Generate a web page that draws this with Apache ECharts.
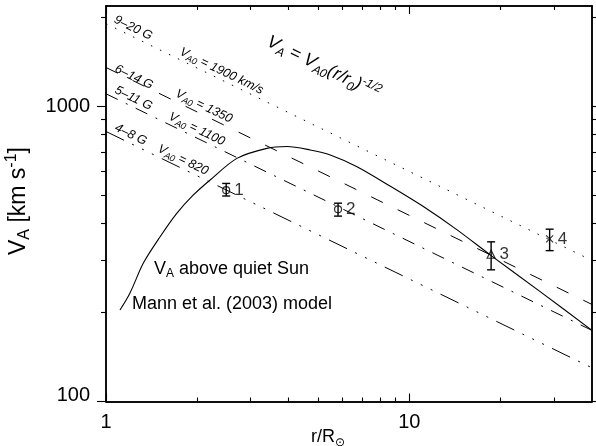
<!DOCTYPE html>
<html>
<head>
<meta charset="utf-8">
<script src="https://cdn.jsdelivr.net/npm/echarts@6/dist/echarts.min.js"></script>
<style>
  html, body { margin: 0; padding: 0; background: #fff; }
  #chart { width: 596px; height: 446px; }
</style>
</head>
<body>
<div id="chart"></div>
<script>
// Alfvén speed above the quiet Sun (Mann et al. 2003 model), r in solar radii, V in km/s
const modelR = [1.112, 1.20, 1.328, 1.508, 1.711, 1.941, 2.204, 2.701, 3.392, 3.948, 4.71, 5.488, 6.72, 8.66, 11.15, 14.37, 18.51, 27.06, 40];
const modelV = [204, 233, 294, 361, 433, 500, 562, 665, 719, 729, 710, 683, 623, 535, 456, 381, 313, 235, 174];

// Power-law reference lines V = V_A0 (r/r0)^-1/2, drawn between r = 1 and r = 40
const refR = [1, 40];
const refStartV = [1900, 1350, 1100, 820];
const refEndV = [300, 213, 174, 130];
const refFieldText = ['9–20 G', '6–14 G', '5–11 G', '4–8 G'];
const refSpeedText = ['1900 km/s', '1350', '1100', '820'];

// Measured speeds with error ranges
const obsR = [2.49, 5.82, 18.6, 29.0];
const obsV = [519, 447, 315, 355];
const obsLow = [496, 424, 279, 324];
const obsHigh = [547, 469, 347, 383];
const obsNames = ['1', '2', '3', '4'];

// Axis ticks
const xMajorTicks = [1, 10];
const xMinorTicks = [2, 3, 4, 5, 6, 7, 8, 9, 20, 30];
const yMajorTicks = [100, 1000];
const yMinorTicks = [200, 300, 400, 500, 600, 700, 800, 900, 2000];

const FONT = '"Liberation Sans", Arial, Helvetica, sans-serif';
const BLACK = '#000';

function richSet(size, italic) {
  const sub = Math.round(size * 0.68);
  const base = { fontFamily: FONT, color: BLACK, fontStyle: italic ? 'italic' : 'normal' };
  return {
    m: Object.assign({}, base, { fontSize: size, lineHeight: Math.round(size * 1.28) }),
    b: Object.assign({}, base, { fontSize: sub, lineHeight: sub, verticalAlign: 'bottom' }),
    p: Object.assign({}, base, { fontSize: sub, lineHeight: sub, verticalAlign: 'top' })
  };
}

function xAxisDef(position, ticks, len, labels) {
  return {
    type: 'log', logBase: 10, min: 1, max: 40, position: position,
    axisLine: { show: true, onZero: false, lineStyle: { color: BLACK, width: 1.5 } },
    axisTick: { show: true, inside: true, length: len, customValues: ticks, lineStyle: { color: BLACK, width: 1.1 } },
    axisLabel: labels ? {
      show: true, customValues: labels, margin: 11, fontSize: 20, fontFamily: FONT, color: BLACK,
      formatter: v => String(Math.round(v))
    } : { show: false },
    minorTick: { show: false }, splitLine: { show: false }
  };
}

function yAxisDef(position, ticks, len, labels) {
  return {
    type: 'log', logBase: 10, min: 100, max: 2180, position: position,
    axisLine: { show: true, onZero: false, lineStyle: { color: BLACK, width: 1.5 } },
    axisTick: { show: true, inside: false, length: len, customValues: ticks, lineStyle: { color: BLACK, width: 1.1 } },
    axisLabel: labels ? {
      show: true, customValues: labels, margin: 16, fontSize: 20, fontFamily: FONT, color: BLACK,
      formatter: v => Math.round(v) === 100 ? '{lo|100}' : String(Math.round(v)),
      rich: { lo: { fontSize: 20, fontFamily: FONT, color: BLACK, padding: [0, 0, 13, 0] } }
    } : { show: false },
    minorTick: { show: false }, splitLine: { show: false }
  };
}

const refDash = [
  [1.5, 8.5],
  [13, 16.5],
  [13, 9, 2, 9],
  [20, 9, 2, 9, 2, 9, 2, 9]
];

const series = [];

series.push({
  type: 'line', xAxisIndex: 0, yAxisIndex: 0,
  data: modelR.map((r, i) => [r, modelV[i]]),
  smooth: 0.3, symbol: 'none',
  lineStyle: { color: BLACK, width: 1.1 }, z: 3
});

refStartV.forEach((v0, i) => {
  series.push({
    type: 'line', xAxisIndex: 0, yAxisIndex: 0,
    data: [[refR[0], v0], [refR[1], refEndV[i]]],
    symbol: 'none',
    lineStyle: { color: BLACK, width: 1, type: refDash[i], cap: 'butt' }, z: 2
  });
});

series.push({
  type: 'custom', xAxisIndex: 0, yAxisIndex: 0,
  data: obsR.map((r, i) => [r, obsLow[i], obsHigh[i]]),
  encode: { x: 0, y: [1, 2] },
  renderItem: function (params, api) {
    const lo = api.coord([api.value(0), api.value(1)]);
    const hi = api.coord([api.value(0), api.value(2)]);
    const w = 4;
    const st = { stroke: BLACK, lineWidth: 1.4 };
    return {
      type: 'group',
      children: [
        { type: 'line', shape: { x1: lo[0], y1: lo[1], x2: hi[0], y2: hi[1] }, style: st },
        { type: 'line', shape: { x1: lo[0] - w, y1: lo[1], x2: lo[0] + w, y2: lo[1] }, style: st },
        { type: 'line', shape: { x1: hi[0] - w, y1: hi[1], x2: hi[0] + w, y2: hi[1] }, style: st }
      ]
    };
  },
  z: 4
});

const pointSymbols = ['circle', 'circle', 'triangle', 'path://M0,0L10,10M10,0L0,10'];
const pointSizes = [7, 7, 8, 7];
series.push({
  type: 'scatter', xAxisIndex: 0, yAxisIndex: 0,
  data: obsR.map((r, i) => ({
    value: [r, obsV[i]], name: obsNames[i],
    symbol: pointSymbols[i], symbolSize: pointSizes[i]
  })),
  itemStyle: { color: 'none', borderColor: BLACK, borderWidth: 1.2 },
  label: {
    show: true, position: 'right', distance: 2,
    formatter: p => p.name, fontSize: 17, fontFamily: FONT, color: BLACK
  },
  z: 5
});

const chart = echarts.init(document.getElementById('chart'), null, { renderer: 'canvas' });
chart.setOption({
  animation: false,
  backgroundColor: '#fff',
  grid: { left: 106, right: 4, top: 6, bottom: 44.5, containLabel: false },
  xAxis: [
    xAxisDef('bottom', xMajorTicks, 8, xMajorTicks),
    xAxisDef('bottom', xMinorTicks, 4, null),
    xAxisDef('top', xMajorTicks, 8, null),
    xAxisDef('top', xMinorTicks, 4, null)
  ],
  yAxis: [
    yAxisDef('left', yMajorTicks, 9, yMajorTicks),
    yAxisDef('left', yMinorTicks, 5, null),
    yAxisDef('right', yMajorTicks, 8, null),
    yAxisDef('right', yMinorTicks, 4, null)
  ],
  series: series
});

// Annotation text: labels laid along the reference lines, model caption, axis titles
const finder = { xAxisIndex: 0, yAxisIndex: 0 };
const graphics = [];

function lineEnds(i) {
  return [
    chart.convertToPixel(finder, [refR[0], refStartV[i]]),
    chart.convertToPixel(finder, [refR[1], refEndV[i]])
  ];
}
function pointOnLine(i, r) {
  const e = lineEnds(i);
  const t = Math.log(r / refR[0]) / Math.log(refR[1] / refR[0]);
  return [e[0][0] + t * (e[1][0] - e[0][0]), e[0][1] + t * (e[1][1] - e[0][1])];
}
const e0 = lineEnds(0);
const slopeRot = -Math.atan2(e0[1][1] - e0[0][1], e0[1][0] - e0[0][0]);

const fieldLabelR = [1.04, 1.046, 1.046, 1.046];
const fieldLabelDy = [0, 5, 0, 0];
const speedLabelR = [1.714, 1.66, 1.578, 1.451];
const smallRich = richSet(12.5, true);

refFieldText.forEach((txt, i) => {
  const a = pointOnLine(i, fieldLabelR[i]);
  graphics.push({
    type: 'text', x: a[0], y: a[1] + fieldLabelDy[i], rotation: slopeRot, z: 10,
    style: { text: '{m|' + txt + '}', rich: smallRich, align: 'left', verticalAlign: 'bottom' }
  });
  const b = pointOnLine(i, speedLabelR[i]);
  graphics.push({
    type: 'text', x: b[0], y: b[1], rotation: slopeRot, z: 10,
    style: { text: '{m|V}{b|A0}{m| = ' + refSpeedText[i] + '}', rich: smallRich, align: 'left', verticalAlign: 'bottom' }
  });
});

graphics.push({
  type: 'text', x: 263, y: 51, rotation: slopeRot, z: 10,
  style: {
    text: '{m|V}{b|A}{m| = V}{b|A0}{m|(r/r}{b|0}{m|)}{p|-1/2}',
    rich: richSet(18, true), align: 'left', verticalAlign: 'bottom'
  }
});

graphics.push({
  type: 'text', x: 154, y: 268.6, z: 10,
  style: { text: '{m|V}{b|A}{m| above quiet Sun}', rich: richSet(18, false), align: 'left', verticalAlign: 'middle' }
});
graphics.push({
  type: 'text', x: 132, y: 304.3, z: 10,
  style: { text: '{m|Mann et al. (2003) model}', rich: richSet(18, false), align: 'left', verticalAlign: 'middle' }
});

graphics.push({
  type: 'text', x: 311, y: 437, z: 10,
  style: { text: '{m|r/R}{b|⊙}', rich: richSet(18, false), align: 'left', verticalAlign: 'middle' }
});
graphics.push({
  type: 'text', x: 18.5, y: 201, rotation: Math.PI / 2, z: 10,
  style: { text: '{m|V}{b|A}{m| [km s}{p|-1}{m|]}', rich: richSet(23, false), align: 'center', verticalAlign: 'middle' }
});

chart.setOption({ graphic: graphics });
</script>
</body>
</html>
